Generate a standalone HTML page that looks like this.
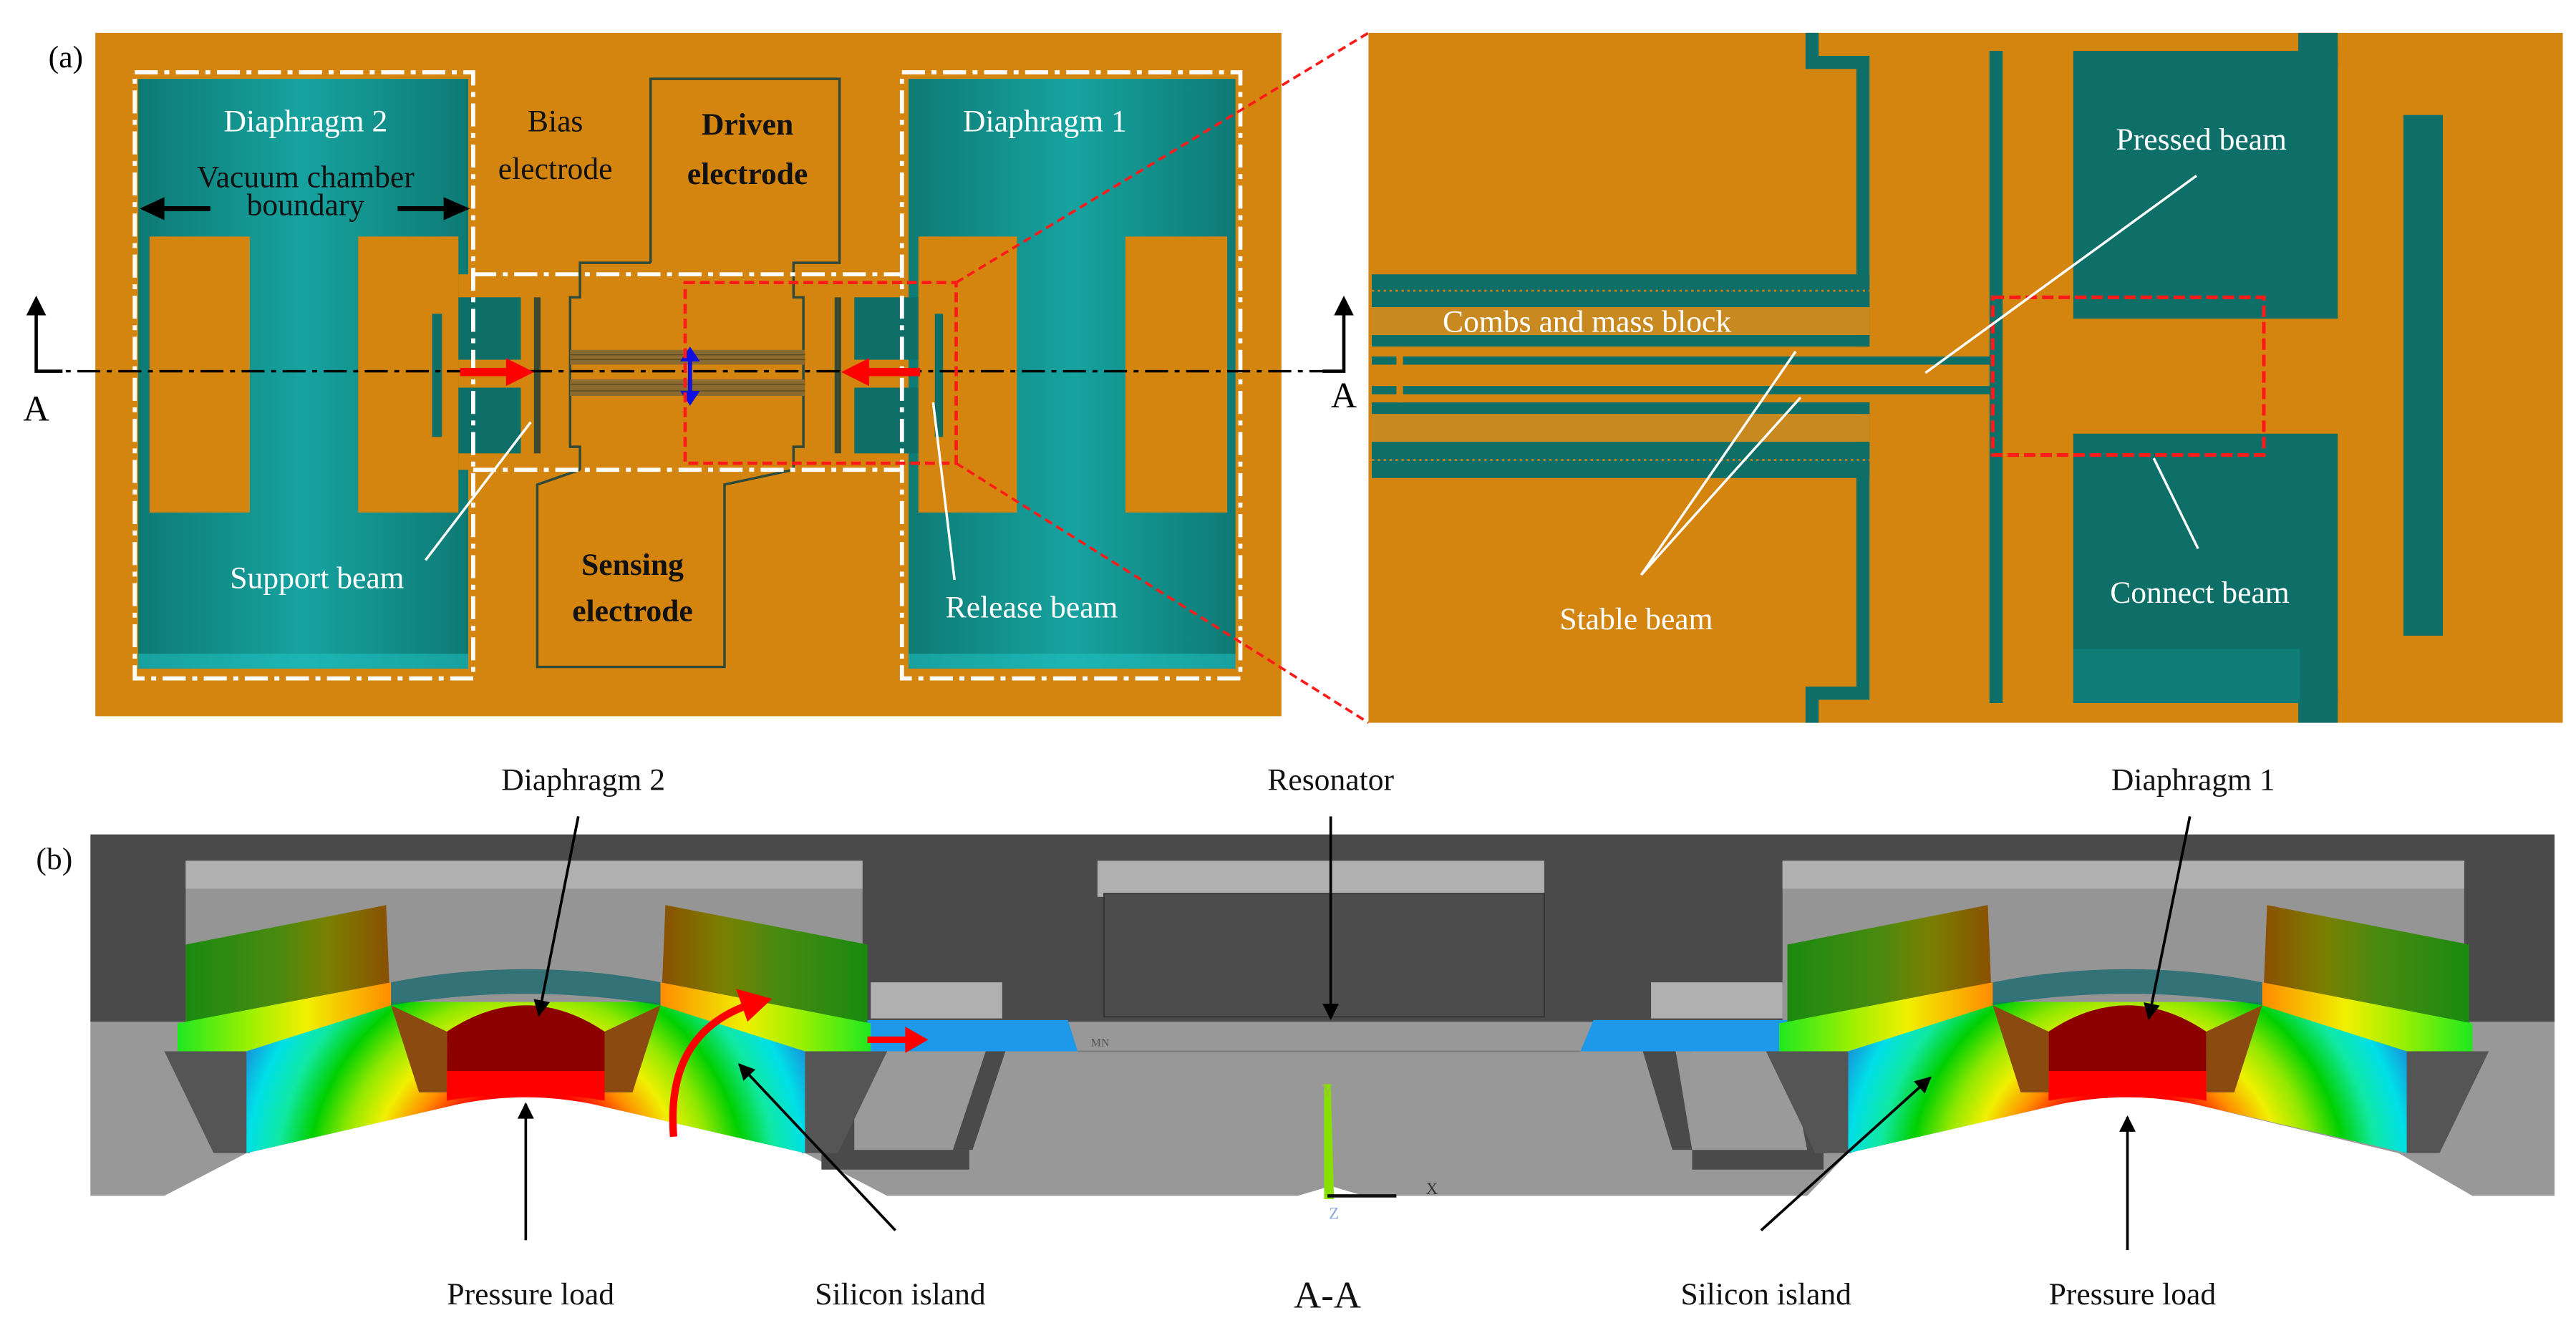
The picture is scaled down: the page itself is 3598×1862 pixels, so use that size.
<!DOCTYPE html>
<html><head><meta charset="utf-8"><style>
html,body{margin:0;padding:0;background:#fff;}
svg{display:block}
text{font-family:"Liberation Serif",serif;}
</style></head><body>
<svg width="3598" height="1862" viewBox="0 0 1568 811.5" xmlns="http://www.w3.org/2000/svg">
<defs>
<linearGradient id="tealg" x1="0" y1="0" x2="1" y2="0">
<stop offset="0" stop-color="#0e7a74"/><stop offset="0.5" stop-color="#16a3a0"/><stop offset="1" stop-color="#0e7a74"/>
</linearGradient>
<radialGradient id="rain" gradientUnits="userSpaceOnUse" cx="320" cy="720" r="190">
<stop offset="0" stop-color="#ff0000"/><stop offset="0.3" stop-color="#ff0000"/>
<stop offset="0.4" stop-color="#ff8c00"/><stop offset="0.5" stop-color="#f0f000"/><stop offset="0.6" stop-color="#90e800"/>
<stop offset="0.7" stop-color="#00d000"/><stop offset="0.8" stop-color="#10e8a0"/><stop offset="0.9" stop-color="#00e0e8"/>
<stop offset="1" stop-color="#1a8ad8"/>
</radialGradient>
<linearGradient id="flapL" x1="0" y1="0" x2="1" y2="0">
<stop offset="0" stop-color="#1a8a10"/><stop offset="0.45" stop-color="#4a8a10"/><stop offset="0.7" stop-color="#7a8000"/><stop offset="1" stop-color="#8a5000"/>
</linearGradient>
<linearGradient id="flapR" x1="1" y1="0" x2="0" y2="0">
<stop offset="0" stop-color="#1a8a10"/><stop offset="0.45" stop-color="#4a8a10"/><stop offset="0.7" stop-color="#7a8000"/><stop offset="1" stop-color="#8a5000"/>
</linearGradient>
<linearGradient id="bandL" x1="0" y1="0" x2="1" y2="0">
<stop offset="0" stop-color="#20e820"/><stop offset="0.35" stop-color="#a0f000"/><stop offset="0.6" stop-color="#f0f000"/><stop offset="1" stop-color="#ff8c00"/>
</linearGradient>
<linearGradient id="bandR" x1="1" y1="0" x2="0" y2="0">
<stop offset="0" stop-color="#20e820"/><stop offset="0.35" stop-color="#a0f000"/><stop offset="0.6" stop-color="#f0f000"/><stop offset="1" stop-color="#ff8c00"/>
</linearGradient>
<marker id="ahb" viewBox="0 0 10 10" refX="9" refY="5" markerWidth="18" markerHeight="10" orient="auto" markerUnits="userSpaceOnUse">
<path d="M0,0 L10,5 L0,10 z" fill="#000"/></marker>
<g id="dia">
 <polygon points="100,640 150,640 152,702 130,702" fill="#555"/>
 <polygon points="540,640 490,640 488,702 510,702" fill="#555"/>
 <polygon points="113,575 235,551 237,600 113,624" fill="url(#flapL)"/>
 <polygon points="405,551 528,575 528,624 403,600" fill="url(#flapR)"/>
 <path d="M150,630 L238,610 L402,610 L490,630 L490,702 L360,672 Q320,664 280,672 L150,702 Z" fill="url(#rain)"/>
 <polygon points="108,623 238,598 238,612 150,640 108,640" fill="url(#bandL)"/>
 <polygon points="402,598 530,623 530,640 490,640 402,612" fill="url(#bandR)"/>
 <path d="M272,668 L272,628 Q320,596 368,628 L368,668 Q320,662 272,668Z" fill="#8c0000"/>
 <path d="M272,670 L272,652 L368,652 L368,670 Q320,662 272,670Z" fill="#ff0000"/>
 <path d="M238,598 Q320,582 402,598 L402,612 Q320,598 238,612Z" fill="#1a6a70" opacity="0.8"/>
 <polygon points="238,612 272,628 272,665 255,665" fill="#8a4a10"/>
 <polygon points="402,612 368,628 368,665 385,665" fill="#8a4a10"/>
</g>
</defs>

<!-- ============ PANEL (a) LEFT ============ -->
<rect x="58" y="20" width="722" height="416" fill="#d4850f"/>
<rect x="84" y="48" width="201" height="359" fill="url(#tealg)"/>
<rect x="553" y="48" width="199" height="359" fill="url(#tealg)"/>
<rect x="84" y="398" width="201" height="9" fill="#22c8c8" opacity="0.5"/>
<rect x="553" y="398" width="199" height="9" fill="#22c8c8" opacity="0.5"/>
<rect x="91" y="144" width="61" height="168" fill="#d4850f"/>
<rect x="218" y="144" width="61" height="168" fill="#d4850f"/>
<rect x="559" y="144" width="60" height="168" fill="#d4850f"/>
<rect x="685" y="144" width="62" height="168" fill="#d4850f"/>
<rect x="279" y="167" width="274" height="119" fill="#d4850f"/>
<rect x="263" y="191" width="6" height="75" fill="#0e6e68"/>
<rect x="569" y="191" width="5" height="75" fill="#0e6e68"/>
<rect x="279" y="181" width="38" height="38" fill="#0e6e68"/>
<rect x="279" y="236" width="38" height="40" fill="#0e6e68"/>
<rect x="520" y="181" width="39" height="38" fill="#0e6e68"/>
<rect x="520" y="236" width="39" height="40" fill="#0e6e68"/>
<rect x="325" y="181" width="4" height="95" fill="#3a4a30"/>
<rect x="508" y="181" width="4" height="95" fill="#3a4a30"/>
<path d="M396,160 L396,48 L511,48 L511,160 L483,160 L483,181 L489,181 L489,272 L483,272 L483,286" fill="none" stroke="#2f4a3a" stroke-width="1.5"/>
<path d="M396,160 L353,160 L353,181 L347,181 L347,272 L353,272 L353,286" fill="none" stroke="#2f4a3a" stroke-width="1.5"/>
<path d="M353,286 L327,295 L327,406 L441,406 L441,295 L483,286" fill="none" stroke="#2f4a3a" stroke-width="1.5"/>
<rect x="347" y="213" width="143" height="9" fill="#8a6a30"/>
<rect x="347" y="231" width="143" height="10" fill="#8a6a30"/>
<g stroke="#5a4a20" stroke-width="0.6"><line x1="347" y1="216" x2="490" y2="216"/><line x1="347" y1="219" x2="490" y2="219"/><line x1="347" y1="234" x2="490" y2="234"/><line x1="347" y1="238" x2="490" y2="238"/></g>
<g fill="none" stroke="#fff" stroke-width="2.5" stroke-dasharray="14,4,3,4">
<rect x="82" y="44" width="206" height="369"/>
<rect x="549" y="44" width="206" height="369"/>
<line x1="288" y1="167" x2="549" y2="167"/>
<line x1="288" y1="286" x2="549" y2="286"/>
</g>
<line x1="22" y1="226" x2="818" y2="226" stroke="#000" stroke-width="1.5" stroke-dasharray="14,4,3,4"/>
<polyline points="38,226 22,226 22,190" fill="none" stroke="#000" stroke-width="2"/>
<polygon points="16,192 22,180 28,192" fill="#000"/>
<polyline points="805,226 818,226 818,190" fill="none" stroke="#000" stroke-width="2"/>
<polygon points="812,192 818,180 824,192" fill="#000"/>
<text x="22" y="256" font-size="22" text-anchor="middle">A</text>
<text x="818" y="248" font-size="22" text-anchor="middle">A</text>
<rect x="280" y="224" width="30" height="5" fill="#ff0000"/>
<polygon points="308,218 325,226.5 308,235" fill="#ff0000"/>
<rect x="527" y="224" width="33" height="5" fill="#ff0000"/>
<polygon points="529,218 512,226.5 529,235" fill="#ff0000"/>
<line x1="420" y1="218" x2="420" y2="240" stroke="#1010e0" stroke-width="2.5"/>
<polygon points="414,220 420,211 426,220" fill="#1010e0"/>
<polygon points="414,238 420,247 426,238" fill="#1010e0"/>
<rect x="417" y="172" width="165" height="110" fill="none" stroke="#ff1a1a" stroke-width="2" stroke-dasharray="6,3"/>
<line x1="582" y1="172" x2="833" y2="20" stroke="#ff1a1a" stroke-width="1.6" stroke-dasharray="5,3"/>
<line x1="582" y1="282" x2="833" y2="440" stroke="#ff1a1a" stroke-width="1.6" stroke-dasharray="5,3"/>
<text x="40" y="41" font-size="19" text-anchor="middle">(a)</text>
<g fill="#fff" font-size="19" text-anchor="middle">
<text x="186" y="80">Diaphragm 2</text>
<text x="636" y="80">Diaphragm 1</text>
<text x="193" y="358">Support beam</text>
<text x="628" y="376">Release beam</text>
</g>
<g font-size="19" text-anchor="middle" fill="#111">
<text x="338" y="80">Bias</text>
<text x="338" y="109">electrode</text>
<text x="186" y="114">Vacuum chamber</text>
<text x="186" y="131">boundary</text>
</g>
<g font-size="19" font-weight="bold" text-anchor="middle" fill="#111">
<text x="455" y="82">Driven</text>
<text x="455" y="112">electrode</text>
<text x="385" y="350">Sensing</text>
<text x="385" y="378">electrode</text>
</g>
<line x1="128" y1="127" x2="98" y2="127" stroke="#000" stroke-width="3"/>
<polygon points="100,120 85,127 100,134" fill="#000"/>
<line x1="242" y1="127" x2="272" y2="127" stroke="#000" stroke-width="3"/>
<polygon points="270,120 286,127 270,134" fill="#000"/>
<line x1="259" y1="341" x2="323" y2="257" stroke="#fff" stroke-width="1.5"/>
<line x1="581" y1="353" x2="568" y2="245" stroke="#fff" stroke-width="1.5"/>

<!-- ============ PANEL (a) RIGHT ============ -->
<rect x="833" y="20" width="727" height="420" fill="#d4850f"/>
<rect x="1262" y="31" width="161" height="163" fill="#0e6e68"/>
<rect x="1399" y="20" width="24" height="20" fill="#0e6e68"/>
<rect x="1262" y="264" width="161" height="164" fill="#0e6e68"/>
<rect x="1399" y="420" width="24" height="20" fill="#0e6e68"/>
<polygon points="1262,428 1262,395 1400,395 1400,428" fill="#15a0a0" opacity="0.3"/>
<rect x="1463" y="70" width="24" height="317" fill="#0e6e68"/>
<rect x="1211" y="31" width="8" height="397" fill="#0e6e68"/>
<path d="M1103,20 L1103,38 L1134,38 L1134,211" fill="none" stroke="#0e6e68" stroke-width="8"/>
<path d="M1103,440 L1103,422 L1134,422 L1134,245" fill="none" stroke="#0e6e68" stroke-width="8"/>
<rect x="835" y="167" width="303" height="20" fill="#0e6e68"/>
<rect x="835" y="187" width="303" height="17" fill="#c88a20"/>
<rect x="835" y="204" width="303" height="7" fill="#0e6e68"/>
<rect x="835" y="245" width="303" height="7" fill="#0e6e68"/>
<rect x="835" y="252" width="303" height="17" fill="#c88a20"/>
<rect x="835" y="269" width="303" height="22" fill="#0e6e68"/>
<g stroke="#c8801a" stroke-width="1.2" stroke-dasharray="1.5,2.1">
<line x1="835" y1="177" x2="1138" y2="177"/><line x1="835" y1="280" x2="1138" y2="280"/>
</g>
<rect x="835" y="217" width="379" height="5" fill="#0e6e68"/>
<rect x="835" y="235" width="379" height="5" fill="#0e6e68"/>
<rect x="850" y="211" width="4" height="34" fill="#d4850f"/>
<rect x="1213" y="181" width="165" height="96" fill="none" stroke="#ff1a1a" stroke-width="2.2" stroke-dasharray="7,3"/>
<g fill="#fff" font-size="19" text-anchor="middle">
<text x="966" y="202">Combs and mass block</text>
<text x="1340" y="91">Pressed beam</text>
<text x="996" y="383">Stable beam</text>
<text x="1339" y="367">Connect beam</text>
</g>
<g stroke="#fff" stroke-width="1.5">
<line x1="1337" y1="107" x2="1172" y2="227"/>
<line x1="999" y1="350" x2="1093" y2="214"/>
<line x1="999" y1="350" x2="1096" y2="242"/>
<line x1="1311" y1="279" x2="1338" y2="334"/>
</g>

<!-- ============ PANEL (b) ============ -->
<path d="M55,620 L1555,620 L1555,728 L1505,728 L1460,702 L1335,672 Q1295,662 1255,672 L1125,702 L1100,728 L830,728 L810,722 L790,728 L540,728 L490,702 L360,672 Q320,662 280,672 L150,702 L100,728 L55,728 Z" fill="#989898"/>
<rect x="55" y="508" width="1500" height="114" fill="#4a4a4a"/>
<rect x="113" y="524" width="412" height="98" fill="#959595"/>
<rect x="113" y="524" width="412" height="17" fill="#b0b0b0"/>
<rect x="1085" y="524" width="415" height="98" fill="#959595"/>
<rect x="1085" y="524" width="415" height="17" fill="#b0b0b0"/>
<rect x="668" y="524" width="272" height="22" fill="#b0b0b0"/>
<rect x="672" y="544" width="268" height="75" fill="#4c4c4c" stroke="#333" stroke-width="0.8"/>
<rect x="530" y="598" width="80" height="22" fill="#b0b0b0"/>
<rect x="1005" y="598" width="80" height="22" fill="#b0b0b0"/>
<polygon points="512,640 535,640 520,700 590,700 590,712 500,712 500,700" fill="#4a4a4a"/>
<polygon points="520,640 600,640 580,700 520,700" fill="#9a9a9a"/>
<polygon points="600,640 612,640 592,700 580,700" fill="#4a4a4a"/>
<polygon points="1100,640 1088,640 1100,700 1030,700 1030,712 1110,712 1110,700" fill="#4a4a4a"/>
<polygon points="1020,640 1000,640 1018,700 1030,700" fill="#4a4a4a"/>
<polygon points="1030,640 1088,640 1100,700 1030,700" fill="#9a9a9a"/>
<polygon points="512,621 650,621 656,640 512,640" fill="#1e98e8"/>
<polygon points="970,621 1100,621 1100,640 962,640" fill="#1e98e8"/>
<line x1="656" y1="640" x2="962" y2="640" stroke="#777" stroke-width="0.8"/>
<text x="664" y="637" font-size="7" fill="#555" font-family="Liberation Sans, sans-serif">MN</text>
<use href="#dia"/>
<use href="#dia" transform="translate(975,0)"/>
<rect x="528" y="631" width="25" height="4" fill="#ff0000"/>
<polygon points="551,625 565,633 551,641" fill="#ff0000"/>
<path d="M410,692 Q405,630 455,612" fill="none" stroke="#ff0000" stroke-width="4.5"/>
<polygon points="448,602 470,608 455,622" fill="#ff0000"/>
<polygon points="806,660 810,660 812,730 806,730" fill="#88e000"/>
<line x1="808" y1="728" x2="850" y2="728" stroke="#111" stroke-width="2"/>
<text x="868" y="727" font-size="10" fill="#333" font-family="Liberation Sans, sans-serif">X</text>
<text x="808" y="667" font-size="10" fill="#99c040" font-family="Liberation Sans, sans-serif" text-anchor="middle">Y</text>
<text x="812" y="742" font-size="10" fill="#8ad" font-family="Liberation Sans, sans-serif" text-anchor="middle">Z</text>
<g stroke="#000" stroke-width="1.6">
<line x1="352" y1="497" x2="328" y2="618" marker-end="url(#ahb)"/>
<line x1="810" y1="497" x2="810" y2="620" marker-end="url(#ahb)"/>
<line x1="1333" y1="497" x2="1308" y2="620" marker-end="url(#ahb)"/>
<line x1="320" y1="755" x2="320" y2="672" marker-end="url(#ahb)"/>
<line x1="1295" y1="761" x2="1295" y2="680" marker-end="url(#ahb)"/>
<line x1="545" y1="749" x2="450" y2="648" marker-end="url(#ahb)"/>
<line x1="1072" y1="749" x2="1175" y2="656" marker-end="url(#ahb)"/>
</g>
<g font-size="19" text-anchor="middle" fill="#111">
<text x="355" y="481">Diaphragm 2</text>
<text x="810" y="481">Resonator</text>
<text x="1335" y="481">Diaphragm 1</text>
<text x="323" y="794">Pressure load</text>
<text x="548" y="794">Silicon island</text>
<text x="808" y="796" font-size="23">A-A</text>
<text x="1075" y="794">Silicon island</text>
<text x="1298" y="794">Pressure load</text>
<text x="33" y="529">(b)</text>
</g>
</svg>
</body></html>
